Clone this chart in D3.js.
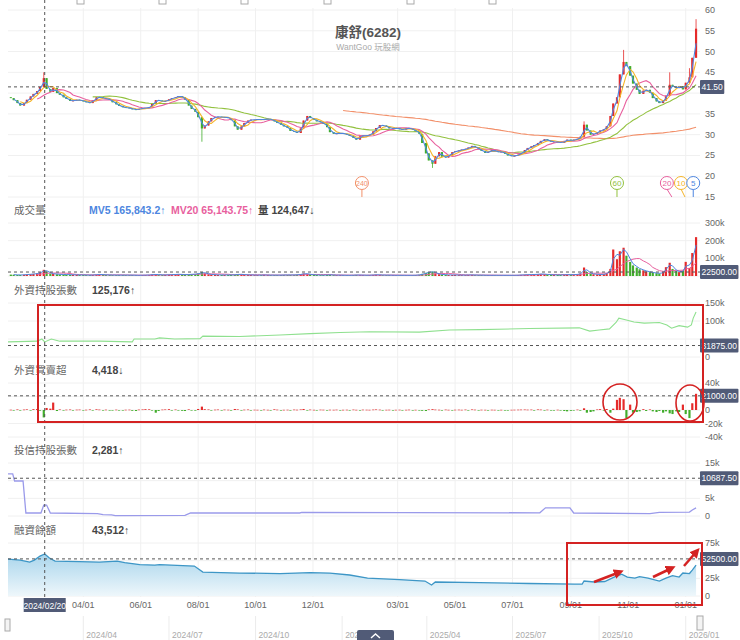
<!DOCTYPE html>
<html>
<head>
<meta charset="utf-8">
<script src="https://cdn.jsdelivr.net/npm/d3@7"></script>
<style>
body { margin:0; background:#fff; }
svg text { font-family:"Liberation Sans","Noto Sans CJK TC",sans-serif; }
</style>
</head>
<body>
<svg id="chart" width="740" height="640"></svg>
<script>
// half-week closes (Mon / Thu), 2024-01-15 .. 2026-01-12
var closes = [
	38.8,38.3, 37.6,37.0, 37.6,38.4, 39.2,39.8, 40.5,41.5, 43.6,41.0, 40.3,41.2, 40.0,39.6, 39.0,38.6, 38.1,38.2,
	38.4,38.3, 38.0,37.8, 37.6,38.3, 39.0,39.0, 38.8,38.6, 38.4,37.8, 37.3,36.9, 36.6,36.5, 36.4,36.1, 36.0,36.2,
	36.4,36.4, 36.6,37.4, 38.3,38.2, 38.0,38.1, 38.5,38.8, 39.0,39.3, 39.0,38.4, 37.0,36.2, 35.5,34.2, 31.5,32.2,
	33.2,34.0, 34.3,34.3, 34.2,34.2, 34.0,33.5, 32.0,31.2, 32.0,32.8, 33.4,33.6, 33.6,33.7, 33.6,33.7, 33.8,33.6,
	33.2,32.8, 32.4,32.0, 31.6,30.9, 30.7,30.4, 31.5,33.4, 34.5,34.0, 33.6,33.2, 33.0,32.6, 31.8,30.6, 30.2,30.3,
	30.4,30.2, 30.0,29.7, 29.2,28.8, 29.6,29.8, 29.7,30.0, 30.8,31.6, 32.3,32.2, 31.9,31.5, 31.5,31.6, 31.3,31.2,
	31.6,31.5, 31.2,30.8, 30.2,28.0, 25.5,23.8, 23.0,24.8, 25.8,24.7, 24.5,25.1, 25.8,26.0, 26.2,26.4, 26.6,26.9,
	27.3,27.0, 26.5,26.1, 25.6,25.9, 26.3,26.0, 25.8,25.9, 25.4,25.0, 24.9,24.9, 25.2,25.6, 26.3,26.8, 27.2,27.5,
	28.0,28.5, 28.9,28.6, 28.3,28.3, 28.2,28.0, 28.5,28.8, 28.5,28.8, 29.0,29.5, 32.4,31.0, 30.0,30.2, 30.6,31.0,
	31.3,32.0, 34.5,37.5, 39.0,44.5, 47.5,46.5, 44.2,42.3, 40.8,39.8, 40.6,40.8, 40.1,38.8, 38.0,37.6, 38.2,39.4,
	42.0,41.5, 41.2,41.7, 40.9,42.5, 43.8,48.5, 55.5
];
var firstOpen = 39.0;
var wickHigh = { '2024-02-19':45.0, '2025-09-15':33.2, '2025-10-27':50.4, '2025-12-15':45.0, '2026-01-05':46.0, '2026-01-12':57.8 };
var wickLow = { '2024-08-05':28.3, '2025-04-07':22.0 };
// volume, thousand lots
var volumes = [
	8,7, 6,6, 7,9, 10,12, 15,20, 35,25, 14,12, 10,9, 8,8, 7,7,
	6,6, 6,5, 5,6, 8,9, 7,6, 6,5, 5,5, 5,5, 5,5, 4,4,
	5,5, 6,8, 9,7, 6,6, 7,8, 9,10, 8,7, 9,10, 11,14, 22,15,
	10,8, 7,6, 6,6, 6,6, 7,10, 9,7, 6,6, 5,5, 5,6, 5,5,
	5,5, 5,6, 6,6, 6,7, 10,14, 12,8, 6,6, 5,5, 6,7, 5,5,
	5,4, 4,4, 5,6, 5,5, 4,5, 6,7, 6,5, 5,5, 4,4, 4,4,
	4,4, 4,5, 7,12, 18,22, 25,15, 10,8, 7,6, 6,6, 5,5, 5,6,
	6,5, 5,5, 4,4, 4,4, 4,4, 4,4, 4,4, 5,6, 7,8, 8,9,
	10,12, 10,8, 7,6, 6,6, 7,8, 7,8, 10,14, 48,22, 14,10, 9,8,
	10,16, 40,150, 95,140, 160,115, 80,60, 48,38, 32,26, 22,18, 16,14, 22,50,
	75,40, 28,22, 30,80, 45,130, 220
];
// foreign net buy, thousand lots
var netBuy = [
	0.4,-0.6, 0.8,-0.5, 0.6,0.9, -0.8,1.2, 1.5,-1.0, -11,3, 2,11, -1.5,0.8, -0.6,0.5, 0.7,-0.4,
	0.5,0.6, -0.5,0.4, 0.8,-0.6, 1.0,0.6, -0.7,0.5, -0.9,-0.6, 0.5,-0.4, -0.6,0.4, 0.5,-1.2, -1.5,0.6,
	0.8,1.2, 1.0,-0.8, -4,-1.5, 0.6,0.8, 1.2,-0.5, 0.7,-0.8, -1.2,-1.5, 0.9,-0.6, -1.0,1.5, 5,1.2,
	0.8,-0.6, 0.5,0.7, -0.5,0.6, 0.4,-0.7, 1.5,0.9, -0.6,0.5, 0.7,-0.5, 0.4,0.3, -0.4,0.6, 0.3,-0.3,
	1.0,0.5, -0.4,0.3, 0.4,-0.5, 0.6,0.4, 0.8,1.5, -0.5,0.6, 0.3,-0.4, 0.5,0.4, -0.6,0.4, 0.3,0.5,
	-0.4,0.3, 0.4,-0.3, 0.6,0.3, -0.3,0.5, 0.4,0.3, 0.6,0.8, 0.5,-0.4, 0.3,0.4, -0.5,0.3, 0.4,-0.3,
	0.3,0.5, -0.4,0.3, -0.8,-1.2, -1.5,0.8, 1.2,0.6, 0.4,-0.5, 0.6,0.3, -0.3,0.4, 0.5,0.3, 0.6,-0.4,
	0.8,0.5, -0.5,0.4, 0.3,-0.3, 0.4,0.3, -0.3,0.3, -0.4,-0.3, 0.3,0.4, 0.5,0.6, 0.7,0.5, 0.6,-0.5,
	0.8,0.6, -0.6,0.5, -0.5,-0.8, 0.4,-0.6, -1.5,-2, -1.2,-0.8, 0.6,-1.0, 2.5,-4, -3,-2, 0.8,1.2,
	-0.8,1.5, -4,2, 15,18, 16,-12, 8,-4, -3,-2, 1.2,-1.5, 0.8,-2, -3,-1.5, -4,-2,
	-5,-6, -2,-3, 8,-6, -12,10, 24
];
// foreign holdings, thousand lots
var foreignDates = ['2024-01-12','2024-02-12','2024-02-17','2024-02-20','2024-02-27','2024-03-07','2024-04-18','2024-05-23','2024-05-25','2024-06-16','2024-06-21','2024-07-07','2024-08-03','2024-08-06','2024-09-14','2024-10-27','2024-11-28','2024-12-30','2025-01-30','2025-03-24','2025-04-25','2025-05-27','2025-07-19','2025-09-10','2025-09-21','2025-10-01','2025-10-12','2025-10-19','2025-10-22','2025-10-30','2025-11-07','2025-11-18','2025-12-04','2025-12-12','2025-12-17','2025-12-25','2026-01-03','2026-01-07','2026-01-09','2026-01-12'];
var foreignVals = [42,44,50,42,50,44,44,42,50,50,53,50,51,58,57,61,65,68,70,69,75,76,79,81,72,75,78,96,108,103,97,94,96,89,80,87,83,89,108,125];
// investment trust holdings, thousand lots
var trustDates = ['2024-01-12','2024-01-17','2024-01-19','2024-01-28','2024-01-31','2024-02-16','2024-02-19','2024-02-22','2024-02-26','2024-04-16','2024-04-22','2024-05-01','2024-05-05','2024-07-18','2024-07-24','2024-11-17','2024-11-19','2025-07-30','2025-08-05','2025-08-31','2025-09-04','2025-11-24','2025-12-04','2026-01-05','2026-01-08','2026-01-12'];
var trustVals = [11.9,11.9,9.9,9.9,0.85,0.85,3.1,3.1,0.85,0.7,0.4,0.3,0.1,0.15,0.85,0.85,1.0,0.9,2.3,2.3,0.85,0.7,1.0,1.1,1.7,2.3];
// margin balance, thousand lots
var marginDates = ['2024-01-12','2024-01-25','2024-02-04','2024-02-09','2024-02-15','2024-02-20','2024-02-25','2024-03-02','2024-03-28','2024-04-18','2024-05-07','2024-05-15','2024-05-31','2024-06-16','2024-06-21','2024-07-28','2024-08-06','2024-09-14','2024-10-27','2024-11-28','2024-12-19','2025-01-09','2025-01-28','2025-03-03','2025-03-30','2025-04-06','2025-04-10','2025-05-27','2025-07-19','2025-09-05','2025-09-13','2025-09-15','2025-09-26','2025-10-07','2025-10-17','2025-10-25','2025-10-31','2025-11-08','2025-11-13','2025-11-22','2025-12-04','2025-12-11','2025-12-18','2025-12-25','2025-12-29','2026-01-05','2026-01-08','2026-01-12'];
var marginVals = [52.2,50.8,48,50.8,56.5,59.5,53.7,49.4,48.7,48,49.4,47.3,44.5,43.8,44.5,42.4,33.9,32.5,31.8,33.2,32.5,29.7,25.4,23.3,21.2,15.5,19.8,19,17.7,16.9,16.9,21.2,19.8,20.5,26.8,31,26.8,25.4,27.5,25.4,21.2,25.4,28.9,26.8,32.5,31.8,36.7,43.8];

var xTicks = ['2024-04-01','2024-06-01','2024-08-01','2024-10-01','2024-12-01','2025-03-01','2025-05-01','2025-07-01','2025-09-01','2025-11-01','2026-01-01'];
var navTicks = ['2024-04-01','2024-07-01','2024-10-01','2025-01-01','2025-04-01','2025-07-01','2025-10-01','2026-01-01'];
var priceTicks = [15,20,25,30,35,40,45,50,55,60];
var volTicks = [0,100,200,300], foreignTicks = [0,50,100,150], netTicks = [-40,-20,0,20,40], trustTicks = [0,5,10,15], marginTicks = [0,25,50,75];
var crossDate = '2024-02-20';
var crossVals = [41.5, 22.5, 31.875, 21, 10.6875, 52.5];
var crossLabels = ['41.50','22500.00','31875.00','21000.00','10687.50','52500.00'];
var maDays = [5,10,20,60,240];
var maMarks = [['240','2025-01-22'],['60','2025-10-20'],['20','2025-12-12'],['10','2025-12-27'],['5','2026-01-09']];

var maColor = { 5:'#4d86e0', 10:'#f5b428', 20:'#e8609e', 60:'#92c13e', 240:'#f2906a' };
var UP = '#e52a2a', DOWN = '#41ad2c', BOX = '#515b77', RED = '#d42222';
var L = 8, R = 700;

var svg = d3.select('#chart');
var parse = d3.timeParse('%Y-%m-%d'), fmt = d3.timeFormat('%Y-%m-%d');
var x = d3.scaleTime().domain([parse('2024-01-12'), parse('2026-01-13')]).range([L, 697]);
var yPrice = d3.scaleLinear().domain([15,60]).range([197,10]);
var yVol = d3.scaleLinear().domain([0,300]).range([276,223]);
var yFor = d3.scaleLinear().domain([0,150]).range([357,303]);
var yNet = d3.scaleLinear().domain([-40,40]).range([437,383]);
var yTrust = d3.scaleLinear().domain([0,15]).range([516,463]);
var yMargin = d3.scaleLinear().domain([0,75]).range([596,543]);
var kfmt = function(v){ return v==0 ? '0' : v+'k'; };
var panels = [
	{ y:yPrice, ticks:priceTicks, f:function(v){return v;} },
	{ y:yVol, ticks:volTicks, f:kfmt },
	{ y:yFor, ticks:foreignTicks, f:kfmt },
	{ y:yNet, ticks:netTicks, f:kfmt },
	{ y:yTrust, ticks:trustTicks, f:kfmt },
	{ y:yMargin, ticks:marginTicks, f:kfmt }
];

// candles
var start = parse('2024-01-15'), stop = parse('2026-01-13');
var dates = d3.merge([d3.timeMonday.range(start, stop), d3.timeThursday.range(start, stop)]).sort(d3.ascending);
var n = Math.min(dates.length, closes.length);
var candles = d3.range(n).map(function(i) {
	var o = i ? closes[i-1] : firstOpen, c = closes[i], k = fmt(dates[i]);
	return { date:dates[i], o:o, c:c,
		h:Math.max(o, c, wickHigh[k] || 0), l:Math.min(o, c, wickLow[k] || 1e9),
		v:volumes[i], nb:netBuy[i], up:c>=o };
});
var step = (x(dates[n-1]) - x(dates[0])) / (n-1), bw = step*0.66;
var ma = function(arr, w) { return arr.map(function(d,i){ return i<w-1 ? null : d3.mean(arr.slice(i-w+1, i+1)); }); };
var daysPerCandle = 490 / n;	// ~490 trading days shown

// grid
var grid = svg.append('g').attr('stroke','#f0f0f0').attr('stroke-width',1);
grid.selectAll('line.v').data(xTicks).join('line').attr('class','v')
	.attr('x1', function(d){return x(parse(d));}).attr('x2', function(d){return x(parse(d));})
	.attr('y1', 8).attr('y2', 597);
panels.forEach(function(p, i) {
	var cy = p.y(crossVals[i]);
	grid.append('g').selectAll('line').data(p.ticks).join('line')
		.attr('x1', L).attr('x2', R).attr('y1', p.y).attr('y2', p.y);
	// labels hidden behind the crosshair value box are left out
	svg.append('g').selectAll('text').data(p.ticks.filter(function(t){return Math.abs(p.y(t)-cy) > 9;})).join('text')
		.attr('x', 705).attr('y', function(d){return p.y(d)+3;})
		.attr('font-size', 9).attr('fill', '#666').text(p.f);
});

// top toolbar remnants
svg.append('g').selectAll('rect').data([77,159,241,324,407,489]).join('rect')
	.attr('x', function(d){return d;}).attr('y', -3).attr('width', 7).attr('height', 7)
	.attr('fill','none').attr('stroke','#aaa');

// title
svg.append('text').attr('x', 368).attr('y', 37).attr('text-anchor','middle')
	.attr('font-size', 13.5).attr('font-weight','bold').attr('fill','#555').text('康舒(6282)');
svg.append('text').attr('x', 368).attr('y', 50).attr('text-anchor','middle')
	.attr('font-size', 8.5).attr('fill','#aaa').text('WantGoo 玩股網');

// price candles
var cg = svg.append('g');
cg.selectAll('line').data(candles).join('line')
	.attr('x1', function(d){return x(d.date);}).attr('x2', function(d){return x(d.date);})
	.attr('y1', function(d){return yPrice(d.h);}).attr('y2', function(d){return yPrice(d.l);})
	.attr('stroke', function(d){return d.up?UP:DOWN;}).attr('stroke-width', 0.8);
cg.selectAll('rect').data(candles).join('rect')
	.attr('x', function(d){return x(d.date)-bw/2;}).attr('width', bw)
	.attr('y', function(d){return yPrice(Math.max(d.o,d.c));})
	.attr('height', function(d){return Math.max(0.8, Math.abs(yPrice(d.o)-yPrice(d.c)));})
	.attr('fill', function(d){return d.up?UP:DOWN;});

// moving averages, windows converted from trading days to half-week candles
var priceLine = function(vals) {
	return d3.line().defined(function(d){return d[1]!=null;})
		.x(function(d){return x(d[0]);}).y(function(d){return yPrice(d[1]);})
		(vals.map(function(v,i){return [dates[i], v];}));
};
maDays.slice().reverse().forEach(function(m) {
	var w = Math.max(2, Math.round(m / daysPerCandle));
	svg.append('path').attr('d', priceLine(ma(closes.slice(0,n), w)))
		.attr('fill','none').attr('stroke', maColor[m]).attr('stroke-width', 1.1);
});

// MA deduction markers
var lean = { '240':0, '60':0, '20':5, '10':4, '5':0 };
var mk = svg.append('g').selectAll('g').data(maMarks).join('g')
	.attr('transform', function(d){return 'translate('+x(parse(d[1]))+',183)';});
mk.append('line').attr('x1', 0).attr('y1', 6).attr('x2', function(d){return lean[d[0]];}).attr('y2', 14)
	.attr('stroke', function(d){return maColor[d[0]];});
mk.append('circle').attr('r', 6.5).attr('fill','#fff').attr('stroke', function(d){return maColor[d[0]];});
mk.append('text').attr('text-anchor','middle').attr('y', 3).attr('font-size', function(d){return d[0].length>2?7:8;})
	.attr('fill', function(d){return maColor[d[0]];}).text(function(d){return d[0];});

// volume
svg.append('g').selectAll('rect').data(candles).join('rect')
	.attr('x', function(d){return x(d.date)-bw/2;}).attr('width', bw)
	.attr('y', function(d){return yVol(d.v);}).attr('height', function(d){return yVol(0)-yVol(d.v);})
	.attr('fill', function(d){return d.up?UP:DOWN;});
var volLine = function(vals) {
	return d3.line().defined(function(d){return d[1]!=null;})
		.x(function(d){return x(d[0]);}).y(function(d){return yVol(d[1]);})
		(vals.map(function(v,i){return [dates[i], v];}));
};
svg.append('path').attr('d', volLine(ma(volumes.slice(0,n), 9))).attr('fill','none').attr('stroke', maColor[20]).attr('stroke-width', 1);
svg.append('path').attr('d', volLine(ma(volumes.slice(0,n), 2))).attr('fill','none').attr('stroke', maColor[5]).attr('stroke-width', 1);

// foreign holdings
var fData = foreignDates.map(function(d,i){return [parse(d), foreignVals[i]];});
svg.append('path').attr('d', d3.line().x(function(d){return x(d[0]);}).y(function(d){return yFor(d[1]);})(fData))
	.attr('fill','none').attr('stroke','#8fe08f').attr('stroke-width', 1.1);

// foreign net buy
svg.append('g').selectAll('rect').data(candles).join('rect')
	.attr('x', function(d){return x(d.date)-bw/2;}).attr('width', bw)
	.attr('y', function(d){return yNet(Math.max(0,d.nb));})
	.attr('height', function(d){return Math.max(0.6, Math.abs(yNet(d.nb)-yNet(0)));})
	.attr('fill', function(d){return d.nb>=0?UP:DOWN;});

// trust holdings
var tData = trustDates.map(function(d,i){return [parse(d), trustVals[i]];});
svg.append('path').attr('d', d3.line().x(function(d){return x(d[0]);}).y(function(d){return yTrust(d[1]);})(tData))
	.attr('fill','none').attr('stroke','#9a9aea').attr('stroke-width', 1.3);

// margin balance
var defs = svg.append('defs');
var grad = defs.append('linearGradient').attr('id','mg').attr('x1',0).attr('y1',0).attr('x2',0).attr('y2',1);
grad.append('stop').attr('offset','0%').attr('stop-color','#a9d5ec');
grad.append('stop').attr('offset','100%').attr('stop-color','#eef7fb');
var mData = marginDates.map(function(d,i){return [parse(d), marginVals[i]];});
svg.append('path').attr('d', d3.area().x(function(d){return x(d[0]);}).y0(yMargin(0)).y1(function(d){return yMargin(d[1]);})(mData))
	.attr('fill','url(#mg)');
svg.append('path').attr('d', d3.line().x(function(d){return x(d[0]);}).y(function(d){return yMargin(d[1]);})(mData))
	.attr('fill','none').attr('stroke','#3d96c6').attr('stroke-width', 1.3);

// crosshair
var cx = x(parse(crossDate));
svg.append('line').attr('x1', cx).attr('x2', cx).attr('y1', 0).attr('y2', 597)
	.attr('stroke','#555').attr('stroke-dasharray','3,3');
crossVals.forEach(function(v,i) {
	var yy = panels[i].y(v);
	svg.append('line').attr('x1', L).attr('x2', R).attr('y1', yy).attr('y2', yy)
		.attr('stroke','#555').attr('stroke-dasharray','3,3');
	var bg = svg.append('rect').attr('x', 700).attr('y', yy-7).attr('height', 14).attr('rx', 1).attr('fill', BOX);
	var t = svg.append('text').attr('x', 701.5).attr('y', yy+3).attr('font-size', 8.5).attr('fill','#fff').text(crossLabels[i]);
	bg.attr('width', t.node().getComputedTextLength()+3);
});

// x axis
svg.append('g').selectAll('text').data(xTicks).join('text')
	.attr('x', function(d){return x(parse(d));}).attr('y', 608).attr('text-anchor','middle')
	.attr('font-size', 9).attr('fill','#666').text(function(d){return d.slice(5,7)+'/'+d.slice(8);});
svg.append('rect').attr('x', cx-21).attr('y', 598).attr('width', 42).attr('height', 14).attr('fill', BOX);
svg.append('text').attr('x', cx).attr('y', 608.5).attr('text-anchor','middle').attr('font-size', 8.5)
	.attr('fill','#fff').text(crossDate.replace(/-/g,'/'));

// navigator strip
var nav = svg.append('g');
nav.selectAll('line').data(navTicks).join('line')
	.attr('x1', function(d){return x(parse(d));}).attr('x2', function(d){return x(parse(d));})
	.attr('y1', 616).attr('y2', 640).attr('stroke','#ececec');
nav.selectAll('text').data(navTicks).join('text')
	.attr('x', function(d){return x(parse(d))+3;}).attr('y', 638).attr('font-size', 8.5).attr('fill','#aaa')
	.text(function(d){return d.slice(0,7).replace('-','/');});
nav.append('rect').attr('x', 5).attr('y', 619).attr('width', 5).attr('height', 12).attr('fill','#f4f4f4').attr('stroke','#aaa');
nav.append('rect').attr('x', 697).attr('y', 616).attr('width', 6).attr('height', 14).attr('fill','#f4f4f4').attr('stroke','#aaa');
nav.append('rect').attr('x', 357).attr('y', 630).attr('width', 37).attr('height', 12).attr('rx', 2).attr('fill', BOX);
nav.append('path').attr('d','M371,638 L375.5,634 L380,638').attr('fill','none').attr('stroke','#fff').attr('stroke-width',1.5);

// panel headers
var head = function(y, label, parts) {
	svg.append('text').attr('x', 14).attr('y', y).attr('font-size', 10.5).attr('fill','#666').text(label);
	parts.forEach(function(p) {
		svg.append('text').attr('x', p[0]).attr('y', y).attr('font-size', 10.5).attr('font-weight','bold')
			.attr('fill', p[2]).text(p[1]);
	});
};
head(214, '成交量', [[89,'MV5 165,843.2↑',maColor[5]],[171,'MV20 65,143.75↑',maColor[20]],[258,'量 124,647↓','#444']]);
head(294, '外資持股張數', [[92,'125,176↑','#444']]);
head(374, '外資買賣超', [[92,'4,418↓','#444']]);
head(454, '投信持股張數', [[92,'2,281↑','#444']]);
head(534, '融資餘額', [[92,'43,512↑','#444']]);

// hand-drawn annotations
var ann = svg.append('g').attr('fill','none').attr('stroke', RED).attr('stroke-width', 2);
ann.append('rect').attr('x', 38).attr('y', 305).attr('width', 665).attr('height', 117);
ann.append('ellipse').attr('cx', 620).attr('cy', 402).attr('rx', 17).attr('ry', 18).attr('stroke-width', 1.6);
ann.append('ellipse').attr('cx', 690).attr('cy', 403).attr('rx', 14).attr('ry', 18).attr('stroke-width', 1.6);
ann.append('rect').attr('x', 567).attr('y', 543).attr('width', 135).attr('height', 62);
defs.append('marker').attr('id','ah').attr('viewBox','0 0 10 10').attr('refX', 6).attr('refY', 5)
	.attr('markerWidth', 4).attr('markerHeight', 4).attr('orient','auto')
	.append('path').attr('d','M0,0 L10,5 L0,10 z').attr('fill', RED);
[[594,582,620,572],[653,577,672,568],[684,566,697,551]].forEach(function(a) {
	ann.append('line').attr('x1', a[0]).attr('y1', a[1]).attr('x2', a[2]).attr('y2', a[3])
		.attr('stroke-width', 2.5).attr('marker-end','url(#ah)');
});
</script>
</body>
</html>
